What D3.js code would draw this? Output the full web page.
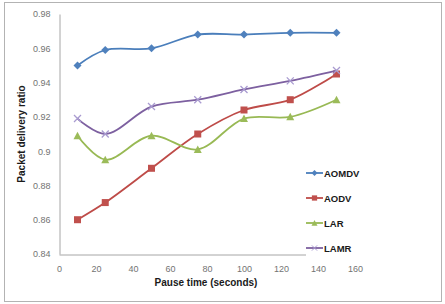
<!DOCTYPE html>
<html>
<head>
<meta charset="utf-8">
<script src="https://cdn.jsdelivr.net/npm/d3@7"></script>
<style>
  body { margin: 0; background: #fff; }
  svg { display: block; font-family: "Liberation Sans", Arial, sans-serif; }
</style>
</head>
<body>
<div id="chart"></div>
<script>
// data
var pauseTimes = [10, 25, 50, 75, 100, 125, 150];
var aomdv = [0.950, 0.959, 0.960, 0.968, 0.968, 0.969, 0.969];
var aodv  = [0.860, 0.870, 0.890, 0.910, 0.924, 0.930, 0.945];
var lar   = [0.909, 0.895, 0.909, 0.901, 0.919, 0.920, 0.930];
var lamr  = [0.919, 0.910, 0.926, 0.930, 0.936, 0.941, 0.947];
var seriesNames = ["AOMDV", "AODV", "LAR", "LAMR"];
var xTicks = [0, 20, 40, 60, 80, 100, 120, 140, 160];
var yTicks = [0.84, 0.86, 0.88, 0.9, 0.92, 0.94, 0.96, 0.98];

var W = 445, H = 304;
var plot = {left: 59, right: 355, top: 14, bottom: 254};

var series = [
  {name: seriesNames[0], values: aomdv, line: "#4A7EBB", fill: "#4F81BD", shape: "diamond"},
  {name: seriesNames[1], values: aodv,  line: "#BE4B48", fill: "#C0504D", shape: "square"},
  {name: seriesNames[2], values: lar,   line: "#98B954", fill: "#9BBB59", shape: "triangle"},
  {name: seriesNames[3], values: lamr,  line: "#7D60A0", fill: "#8064A2", shape: "cross"}
];

var svg = d3.select("#chart").append("svg")
    .attr("width", W).attr("height", H);

// outer chart frame
svg.append("rect")
    .attr("x", 4.5).attr("y", 2.5)
    .attr("width", 437).attr("height", 299)
    .attr("fill", "#fff").attr("stroke", "#b3b3b3").attr("stroke-width", 1);

var x = d3.scaleLinear().domain([0, 160]).range([plot.left, plot.right]);
var y = d3.scaleLinear().domain([0.84, 0.98]).range([plot.bottom, plot.top]);

// axes
var xAxis = svg.append("g")
    .attr("transform", "translate(0," + (plot.bottom + 0.5) + ")")
    .call(d3.axisBottom(x).tickValues(xTicks).tickSize(0).tickPadding(11).tickFormat(d3.format("d")));
var yAxis = svg.append("g")
    .attr("transform", "translate(" + (plot.left + 0.5) + ",0)")
    .call(d3.axisLeft(y).tickValues(yTicks).tickSize(0).tickPadding(9)
      .tickFormat(function(d) { return d === 0.9 ? "0.9" : d3.format(".2f")(d); }));

[xAxis, yAxis].forEach(function(a) {
  a.select(".domain").attr("stroke", "#a6a6a6");
  a.selectAll("text").attr("fill", "#737373").style("font-size", "9px");
});

// smoothed lines
var line = d3.line()
    .x(function(d, i) { return x(pauseTimes[i]); })
    .y(function(d) { return y(d); })
    .curve(d3.curveCatmullRom.alpha(0.5));

function marker(g, shape, fill, k) {
  k = k || 1;
  if (shape === "diamond") {
    g.append("path").attr("d", "M0,-4L4,0L0,4L-4,0Z").attr("fill", fill).attr("transform", "scale(" + k + ")");
  } else if (shape === "square") {
    g.append("rect").attr("x", -3.5).attr("y", -3.5).attr("width", 7).attr("height", 7).attr("fill", fill)
      .attr("transform", "scale(" + k + ")");
  } else if (shape === "triangle") {
    g.append("path").attr("d", "M0,-4L4,3.5L-4,3.5Z").attr("fill", fill).attr("transform", "scale(" + k + ")");
  } else {
    g.append("path").attr("d", "M-3.5,-3.5L3.5,3.5M-3.5,3.5L3.5,-3.5")
      .attr("transform", "scale(" + k + ")")
      .attr("stroke", "#a99bd0").attr("stroke-width", 1.3).attr("fill", "none");
  }
}

series.forEach(function(s) {
  svg.append("path")
      .datum(s.values)
      .attr("d", line)
      .attr("fill", "none")
      .attr("stroke", s.line)
      .attr("stroke-width", 1.8);

  s.values.forEach(function(v, i) {
    var g = svg.append("g").attr("transform", "translate(" + x(pauseTimes[i]) + "," + y(v) + ")");
    marker(g, s.shape, s.fill);
  });
});

// legend (white box covers the axis end)
var legend = svg.append("g").attr("transform", "translate(306,0)");
legend.append("rect").attr("x", 0).attr("y", 160).attr("width", 60).attr("height", 98).attr("fill", "#fff");
series.forEach(function(s, i) {
  var ly = 173 + i * 25;
  var row = legend.append("g");
  row.append("line").attr("x1", 0).attr("x2", 17).attr("y1", ly).attr("y2", ly)
      .attr("stroke", s.line).attr("stroke-width", 1.8);
  var g = row.append("g").attr("transform", "translate(8.5," + ly + ")");
  marker(g, s.shape, s.fill, 0.75);
  row.append("text").attr("x", 18).attr("y", ly + 3.5)
      .attr("font-size", "9.5px").attr("font-weight", "bold").attr("fill", "#1a1a1a")
      .text(s.name);
});

// axis titles
svg.append("text")
    .attr("transform", "translate(25," + ((plot.top + plot.bottom) / 2) + ") rotate(-90)")
    .attr("text-anchor", "middle")
    .attr("font-size", "10px").attr("font-weight", "bold").attr("fill", "#1a1a1a")
    .text("Packet delivery ratio");

svg.append("text")
    .attr("x", 206).attr("y", 286)
    .attr("text-anchor", "middle")
    .attr("font-size", "10px").attr("font-weight", "bold").attr("fill", "#1a1a1a")
    .text("Pause time (seconds)");
</script>
</body>
</html>
